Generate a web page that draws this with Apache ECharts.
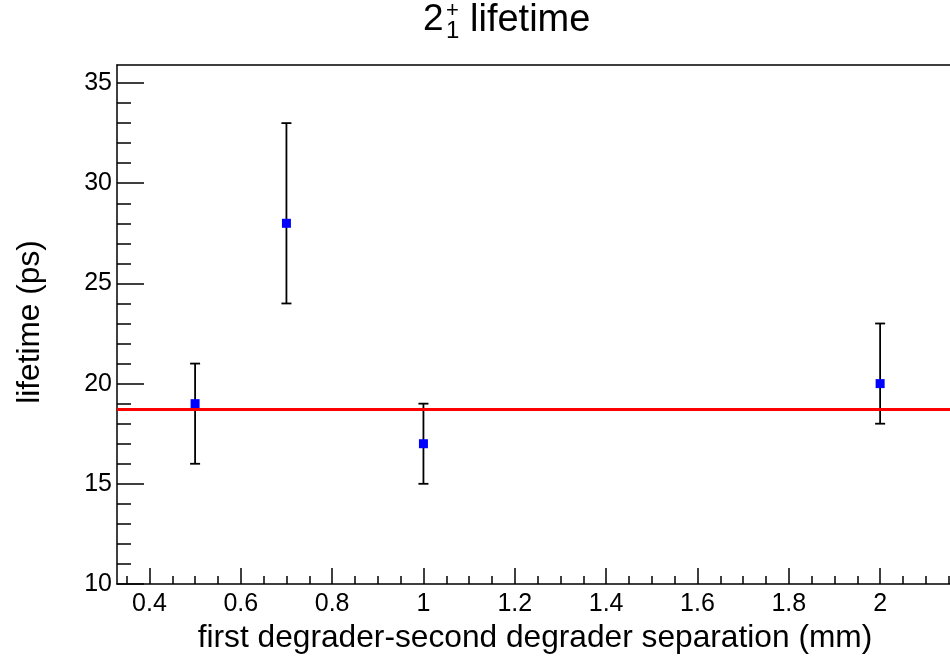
<!DOCTYPE html>
<html>
<head>
<meta charset="utf-8">
<title>2_1+ lifetime</title>
<script src="https://cdn.jsdelivr.net/npm/echarts@6/dist/echarts.min.js"></script>
<style>
  html, body { margin: 0; padding: 0; background: #fff; }
  #chart { width: 950px; height: 659px; }
</style>
</head>
<body>
<div id="chart"></div>
<script>
// Measured lifetimes of the 2+1 state versus degrader separation
const separations = [0.5, 0.7, 1.0, 2.0];          // mm
const lifetimes   = [19, 28, 17, 20];              // ps
const lowerBounds = [16, 24, 15, 18];              // ps, lower end of error bar
const upperBounds = [21, 33, 19, 23];              // ps, upper end of error bar
const fittedLifetime = 18.7;                       // ps, constant fit

// Axis ranges and tick marks
const xRange = [0.329, 2.153];
const yRange = [10, 35.9];
const xMajorTicks = [0.4, 0.6, 0.8, 1, 1.2, 1.4, 1.6, 1.8, 2];
const yMajorTicks = [10, 15, 20, 25, 30, 35];

function stepTicks(from, to, step) {
  const out = [];
  const n = Math.round((to - from) / step);
  for (let i = 0; i <= n; i++) out.push(+(from + i * step).toFixed(4));
  return out;
}
const xMinorTicks = stepTicks(0.35, 2.15, 0.05);
const yMinorTicks = stepTicks(10, 35, 1);

const FONT = '"Liberation Sans", Arial, Helvetica, sans-serif';
const AXIS_W = 1.5;

const chart = echarts.init(document.getElementById('chart'), null, { renderer: 'canvas' });

const baseX = {
  type: 'value', min: xRange[0], max: xRange[1], gridIndex: 0,
  splitLine: { show: false }
};
const baseY = {
  type: 'value', min: yRange[0], max: yRange[1], gridIndex: 0,
  splitLine: { show: false }
};

chart.setOption({
  animation: false,
  backgroundColor: '#fff',
  grid: { left: 117, right: 0, top: 65, bottom: 75, containLabel: false },
  xAxis: [
    Object.assign({}, baseX, {
      position: 'bottom',
      axisLine: { show: true, onZero: false, lineStyle: { color: '#000', width: AXIS_W } },
      axisTick: { show: true, inside: true, length: 16, customValues: xMajorTicks,
                  lineStyle: { color: '#000', width: AXIS_W } },
      axisLabel: { show: true, customValues: xMajorTicks, margin: 8, color: '#000',
                   fontSize: 25, fontFamily: FONT }
    }),
    Object.assign({}, baseX, {
      position: 'bottom',
      axisLine: { show: false, onZero: false },
      axisTick: { show: true, inside: true, length: 8, customValues: xMinorTicks,
                  lineStyle: { color: '#000', width: AXIS_W } },
      axisLabel: { show: false }
    }),
    Object.assign({}, baseX, {
      position: 'top',
      axisLine: { show: true, onZero: false, lineStyle: { color: '#000', width: AXIS_W } },
      axisTick: { show: false },
      axisLabel: { show: false }
    })
  ],
  yAxis: [
    Object.assign({}, baseY, {
      position: 'left',
      axisLine: { show: true, onZero: false, lineStyle: { color: '#000', width: AXIS_W } },
      axisTick: { show: true, inside: true, length: 27, customValues: yMajorTicks,
                  lineStyle: { color: '#000', width: AXIS_W } },
      axisLabel: { show: true, customValues: yMajorTicks, margin: 5, color: '#000',
                   fontSize: 25, fontFamily: FONT }
    }),
    Object.assign({}, baseY, {
      position: 'left',
      axisLine: { show: false, onZero: false },
      axisTick: { show: true, inside: true, length: 14, customValues: yMinorTicks,
                  lineStyle: { color: '#000', width: AXIS_W } },
      axisLabel: { show: false }
    })
  ],
  series: [
    {
      // vertical error bars with end caps
      type: 'custom',
      xAxisIndex: 0, yAxisIndex: 0,
      z: 2,
      silent: true,
      data: separations.map((x, i) => [x, lowerBounds[i], upperBounds[i]]),
      encode: { x: 0, y: [1, 2] },
      renderItem: function (params, api) {
        const lo = api.coord([api.value(0), api.value(1)]);
        const hi = api.coord([api.value(0), api.value(2)]);
        const cap = 5;
        const style = { stroke: '#000', lineWidth: 1.8 };
        return {
          type: 'group',
          children: [
            { type: 'line', shape: { x1: lo[0], y1: lo[1], x2: hi[0], y2: hi[1] }, style: style },
            { type: 'line', shape: { x1: lo[0] - cap, y1: lo[1], x2: lo[0] + cap, y2: lo[1] }, style: style },
            { type: 'line', shape: { x1: hi[0] - cap, y1: hi[1], x2: hi[0] + cap, y2: hi[1] }, style: style }
          ]
        };
      }
    },
    {
      // measured values
      type: 'scatter',
      xAxisIndex: 0, yAxisIndex: 0,
      z: 3,
      symbol: 'rect',
      symbolSize: 9,
      itemStyle: { color: '#0000ff', opacity: 1 },
      data: separations.map((x, i) => [x, lifetimes[i]])
    },
    {
      // constant fit
      type: 'line',
      xAxisIndex: 0, yAxisIndex: 0,
      z: 4,
      data: [],
      markLine: {
        silent: true,
        symbol: ['none', 'none'],
        label: { show: false },
        lineStyle: { color: '#ff0000', width: 3, type: 'solid', opacity: 1 },
        data: [{ yAxis: fittedLifetime }]
      }
    }
  ],
  graphic: [
    { type: 'text', x: 423, y: 20, silent: true,
      style: { text: '2', fontSize: 37, fontFamily: FONT, fill: '#000',
               textAlign: 'left', textVerticalAlign: 'middle', align: 'left', verticalAlign: 'middle' } },
    { type: 'text', x: 446, y: 11, silent: true,
      style: { text: '+', fontSize: 22, fontFamily: FONT, fill: '#000',
               textAlign: 'left', textVerticalAlign: 'middle', align: 'left', verticalAlign: 'middle' } },
    { type: 'text', x: 446, y: 31, silent: true,
      style: { text: '1', fontSize: 24, fontFamily: FONT, fill: '#000',
               textAlign: 'left', textVerticalAlign: 'middle', align: 'left', verticalAlign: 'middle' } },
    { type: 'text', x: 470, y: 20.5, silent: true,
      style: { text: 'lifetime', fontSize: 38, fontFamily: FONT, fill: '#000',
               textAlign: 'left', textVerticalAlign: 'middle', align: 'left', verticalAlign: 'middle' } },
    { type: 'text', x: 535, y: 638, silent: true,
      style: { text: 'first degrader-second degrader separation (mm)', fontSize: 31.7, fontFamily: FONT, fill: '#000',
               textAlign: 'center', textVerticalAlign: 'middle', align: 'center', verticalAlign: 'middle' } },
    { type: 'text', x: 30.5, y: 322, rotation: Math.PI / 2, silent: true,
      style: { text: 'lifetime (ps)', fontSize: 31.7, fontFamily: FONT, fill: '#000',
               textAlign: 'center', textVerticalAlign: 'middle', align: 'center', verticalAlign: 'middle' } }
  ]
});
</script>
</body>
</html>
